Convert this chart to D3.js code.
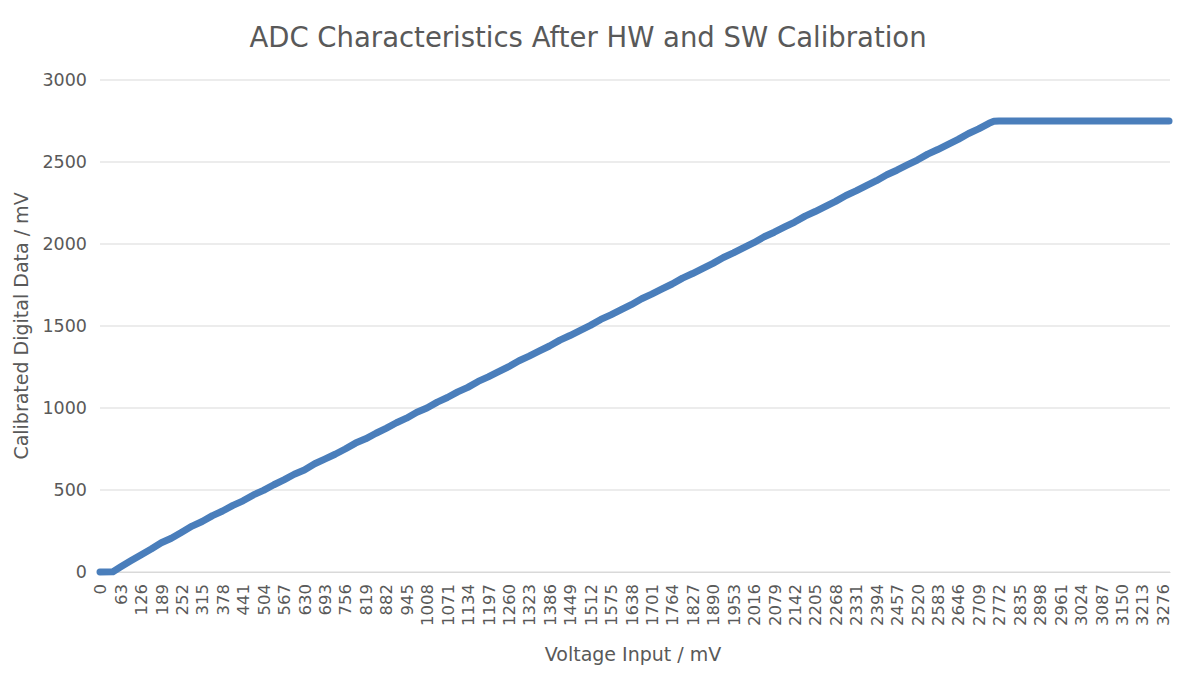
<!DOCTYPE html>
<html>
<head>
<meta charset="utf-8">
<script src="https://cdn.jsdelivr.net/npm/d3@7"></script>
<style>
  body { margin: 0; background: #fff; }
  text { font-family: "DejaVu Sans", sans-serif; }
</style>
</head>
<body>
<div id="chart"></div>
<script>
(function () {

  // input voltage (mV) and calibrated output (mV)
  var inputMv = [0, 40, 63, 95, 126, 158, 189, 220, 252, 284, 315, 347, 378, 410, 441, 473, 504, 536, 567, 599,
    630, 662, 693, 725, 756, 788, 819, 851, 882, 914, 945, 977, 1008, 1040, 1071, 1103, 1134, 1166, 1197, 1229,
    1260, 1292, 1323, 1355, 1386, 1418, 1449, 1481, 1512, 1544, 1575, 1607, 1638, 1670, 1701, 1733, 1764, 1796,
    1827, 1859, 1890, 1922, 1953, 1985, 2016, 2048, 2079, 2111, 2142, 2174, 2205, 2237, 2268, 2300, 2331, 2363,
    2394, 2426, 2457, 2489, 2520, 2552, 2583, 2615, 2646, 2678, 2709, 2741, 2756, 2772, 2835, 2898, 2961, 3024,
    3087, 3150, 3213, 3276, 3296]
  var outputMv = [0, 2, 30, 68, 104, 140, 178, 206, 243, 280, 308, 344, 372, 406, 434, 470, 498, 532, 562, 596,
    622, 660, 688, 718, 750, 786, 812, 846, 876, 910, 938, 974, 1000, 1036, 1064, 1098, 1126, 1162, 1190, 1222,
    1252, 1288, 1316, 1348, 1378, 1414, 1442, 1474, 1504, 1540, 1568, 1600, 1630, 1666, 1694, 1726, 1756, 1792,
    1820, 1852, 1882, 1918, 1946, 1978, 2008, 2044, 2072, 2104, 2134, 2170, 2198, 2230, 2260, 2296, 2324, 2356,
    2386, 2422, 2450, 2482, 2512, 2548, 2576, 2608, 2638, 2674, 2702, 2736, 2748, 2750, 2750, 2750, 2750, 2750,
    2750, 2750, 2750, 2750, 2750]

  var xTickLabels = [0, 63, 126, 189, 252, 315, 378, 441, 504, 567, 630, 693, 756, 819, 882, 945, 1008, 1071,
    1134, 1197, 1260, 1323, 1386, 1449, 1512, 1575, 1638, 1701, 1764, 1827, 1890, 1953, 2016, 2079, 2142, 2205,
    2268, 2331, 2394, 2457, 2520, 2583, 2646, 2709, 2772, 2835, 2898, 2961, 3024, 3087, 3150, 3213, 3276]
  var yTickLabels = [0, 500, 1000, 1500, 2000, 2500, 3000]

  var margin = { top: 80, right: 9, bottom: 112, left: 100 }

  var width = 1179 - margin.left - margin.right,
      height = 684 - margin.top - margin.bottom

  var svg = d3.select("#chart").append("svg")
    .attr("width", 1179)
    .attr("height", 684)

  var g = svg.append("g")
    .attr("transform", "translate(" + margin.left + "," + margin.top + ")")

  var xPositionScale = d3.scaleLinear()
    .domain([0, 3299])
    .range([0, width])

  var yPositionScale = d3.scaleLinear()
    .domain([0, 3000])
    .range([height, 0])

  // gridlines
  g.selectAll(".grid")
    .data(yTickLabels)
    .enter().append("line")
    .attr("class", "grid")
    .attr("x1", 0)
    .attr("x2", width)
    .attr("y1", function (d) { return yPositionScale(d) })
    .attr("y2", function (d) { return yPositionScale(d) })
    .attr("stroke", "#d9d9d9")
    .attr("stroke-width", 1)

  var yAxis = d3.axisLeft(yPositionScale)
    .tickValues(yTickLabels)
    .tickSize(0)
    .tickPadding(13)
    .tickFormat(d3.format("d"))
  g.append("g")
    .attr("class", "axis y-axis")
    .call(yAxis)
    .call(function (a) { a.select(".domain").remove() })
    .selectAll("text")
    .attr("font-size", 17.5)
    .attr("fill", "#595959")
    .style("font-family", "DejaVu Sans")

  var xAxis = d3.axisBottom(xPositionScale)
    .tickValues(xTickLabels)
    .tickSize(0)
    .tickFormat(d3.format("d"))
  var xg = g.append("g")
    .attr("class", "axis x-axis")
    .attr("transform", "translate(0," + height + ")")
    .call(xAxis)
  xg.select(".domain").attr("stroke", "#d9d9d9")
  xg.selectAll("text")
    .attr("transform", "rotate(-90)")
    .attr("x", -12)
    .attr("y", 0)
    .attr("dy", "0.35em")
    .attr("text-anchor", "end")
    .attr("font-size", 16.5)
    .attr("fill", "#595959")
    .style("font-family", "DejaVu Sans")

  var points = inputMv.map(function (v, i) { return [v, outputMv[i]] })

  var line = d3.line()
    .x(function (d) { return xPositionScale(d[0]) })
    .y(function (d) { return yPositionScale(d[1]) })

  g.append("path")
    .datum(points)
    .attr("d", line)
    .attr("fill", "none")
    .attr("stroke", "#4a7ebb")
    .attr("stroke-width", 7)
    .attr("stroke-linejoin", "round")
    .attr("stroke-linecap", "round")

  svg.append("text")
    .attr("x", 588)
    .attr("y", 47)
    .attr("text-anchor", "middle")
    .attr("font-size", 27.5)
    .attr("fill", "#595959")
    .text("ADC Characteristics After HW and SW Calibration")

  svg.append("text")
    .attr("transform", "translate(28," + (margin.top + height / 2) + ") rotate(-90)")
    .attr("text-anchor", "middle")
    .attr("font-size", 19)
    .attr("fill", "#595959")
    .text("Calibrated Digital Data / mV")

  svg.append("text")
    .attr("x", 633)
    .attr("y", 661)
    .attr("text-anchor", "middle")
    .attr("font-size", 19)
    .attr("fill", "#595959")
    .text("Voltage Input / mV")

})()
</script>
</body>
</html>
